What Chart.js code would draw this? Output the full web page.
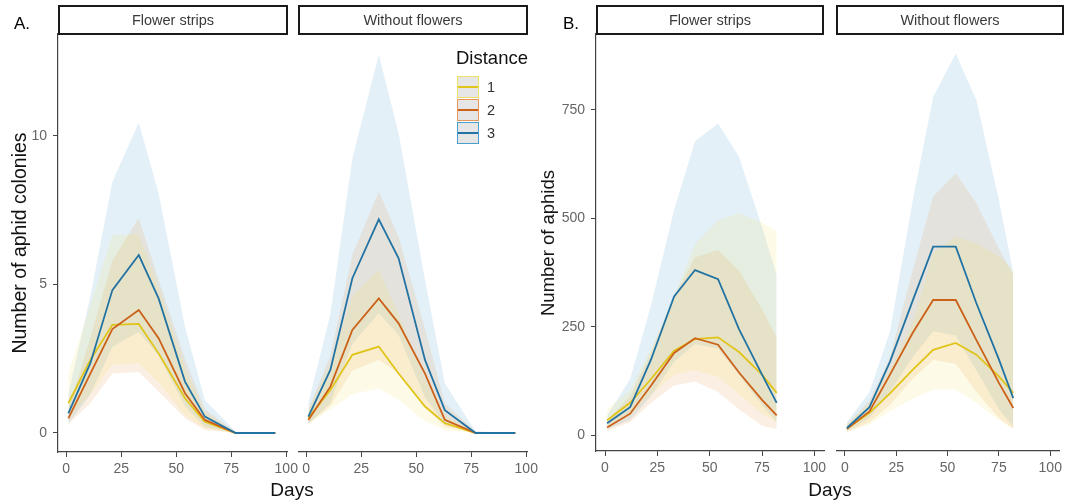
<!DOCTYPE html>
<html>
<head>
<meta charset="utf-8">
<script src="https://cdn.jsdelivr.net/npm/chart.js@4.4.0/dist/chart.umd.min.js"></script>
<style>
body { margin:0; width:1066px; height:502px; background:#fff; position:relative; overflow:hidden; font-family:"Liberation Sans", Arial, sans-serif; }
canvas { position:absolute; }
.strip { position:absolute; top:5px; height:30px; box-sizing:border-box; border:2px solid #1a1a1a; background:#fff; color:#3a3a3a; font-size:14.5px; text-align:center; line-height:26px; }
.ytitle { position:absolute; transform:translate(-50%,-50%) rotate(-90deg); white-space:nowrap; font-size:18.5px; color:#111; }
.xtitle { position:absolute; transform:translateX(-50%); font-size:19px; color:#111; top:479px; }
.tag { position:absolute; top:14px; font-size:17px; color:#000; }
.key { position:absolute; left:457px; width:22px; height:22px; box-sizing:border-box; background:#e6e6e6; border:1.5px solid; }
.key i { position:absolute; left:0; right:0; top:8.5px; height:2px; }
.klab { position:absolute; left:487px; font-size:14.5px; color:#333; line-height:16px; }
</style>
</head>
<body>
<canvas id="a1"></canvas>
<canvas id="a2"></canvas>
<canvas id="b1"></canvas>
<canvas id="b2"></canvas>

<div class="tag" style="left:14px">A.</div>
<div class="tag" style="left:563px">B.</div>
<div class="strip" style="left:58px;width:230px">Flower strips</div>
<div class="strip" style="left:298px;width:230px">Without flowers</div>
<div class="strip" style="left:596px;width:228px">Flower strips</div>
<div class="strip" style="left:836px;width:228px">Without flowers</div>
<div class="ytitle" style="left:19px;top:243px;font-size:19.5px">Number of aphid colonies</div>
<div class="ytitle" style="left:548px;top:243px">Number of aphids</div>
<div class="xtitle" style="left:292px">Days</div>
<div class="xtitle" style="left:830px">Days</div>

<div style="position:absolute;left:456px;top:49px;font-size:18.5px;line-height:18.5px;color:#111">Distance</div>
<div class="key" style="top:76px;border-color:#efe06a"><i style="background:#e0c41a"></i></div>
<div class="key" style="top:99px;border-color:#e8965c"><i style="background:#cc6119"></i></div>
<div class="key" style="top:122px;border-color:#4d9fd0"><i style="background:#2273a3"></i></div>
<div class="klab" style="top:79px">1</div>
<div class="klab" style="top:102px">2</div>
<div class="klab" style="top:125px">3</div>

<script>
// sampling days
const daysA = [1, 11, 21, 33, 42, 54, 63, 77, 95];
const daysB = [1, 12, 22, 33, 43, 54, 64, 75, 82];

// A: number of aphid colonies, flower strips
const colFS1 = [1.0, 2.46, 3.64, 3.67, 2.68, 1.17, 0.38, 0, 0];
const colFS1lo = [0.5, 1.3, 2.3, 2.35, 1.7, 0.6, 0.15, 0, 0];
const colFS1hi = [2.0, 4.3, 6.67, 6.67, 4.9, 2.2, 0.7, 0.02, 0];
const colFS2 = [0.49, 2.0, 3.5, 4.14, 3.19, 1.34, 0.44, 0, 0];
const colFS2lo = [0.3, 1.0, 2.0, 2.05, 1.4, 0.5, 0.1, 0, 0];
const colFS2hi = [0.8, 3.2, 5.8, 7.23, 5.15, 2.5, 0.8, 0.03, 0];
const colFS3 = [0.66, 2.35, 4.81, 5.99, 4.53, 1.73, 0.55, 0, 0];
const colFS3lo = [0.3, 1.3, 2.9, 3.4, 2.6, 0.9, 0.2, 0, 0];
const colFS3hi = [1.3, 4.6, 8.46, 10.45, 8.07, 3.58, 1.11, 0.05, 0];

// A: number of aphid colonies, without flowers
const colWF1 = [0.5, 1.45, 2.63, 2.91, 2.0, 0.89, 0.33, 0, 0];
const colWF1lo = [0.3, 0.8, 1.3, 1.5, 1.1, 0.4, 0.1, 0, 0];
const colWF1hi = [0.8, 2.3, 4.6, 5.49, 4.0, 1.8, 0.6, 0.02, 0];
const colWF2 = [0.44, 1.56, 3.47, 4.53, 3.69, 2.0, 0.44, 0, 0];
const colWF2lo = [0.3, 0.9, 2.1, 2.46, 2.0, 0.9, 0.2, 0, 0];
const colWF2hi = [0.8, 2.6, 6.0, 8.12, 6.6, 3.5, 1.0, 0.05, 0];
const colWF3 = [0.55, 2.12, 5.21, 7.19, 5.88, 2.46, 0.77, 0, 0];
const colWF3lo = [0.3, 1.0, 3.0, 4.03, 3.3, 1.2, 0.3, 0, 0];
const colWF3hi = [1.0, 4.0, 9.25, 12.73, 10.1, 5.15, 1.67, 0.05, 0];

// B: number of aphids, flower strips
const aphFS1 = [35, 75, 130, 195, 222, 226, 192, 140, 98];
const aphFS1lo = [20, 45, 95, 140, 150, 135, 95, 50, 30];
const aphFS1hi = [60, 105, 200, 320, 440, 495, 512, 490, 470];
const aphFS2 = [18, 50, 115, 190, 224, 209, 145, 82, 46];
const aphFS2lo = [10, 30, 75, 115, 124, 100, 60, 22, 14];
const aphFS2hi = [35, 90, 190, 320, 410, 427, 380, 290, 225];
const aphFS3 = [28, 65, 175, 320, 381, 360, 245, 140, 75];
const aphFS3lo = [15, 35, 90, 170, 210, 200, 140, 70, 30];
const aphFS3hi = [45, 130, 300, 520, 678, 719, 642, 480, 370];

// B: number of aphids, without flowers
const aphWF1 = [15, 52, 97, 151, 197, 213, 186, 136, 98];
const aphWF1lo = [8, 25, 55, 85, 105, 105, 75, 35, 15];
const aphWF1hi = [25, 75, 150, 260, 420, 458, 443, 412, 381];
const aphWF2 = [15, 55, 140, 236, 312, 312, 220, 121, 63];
const aphWF2lo = [8, 30, 70, 130, 174, 165, 100, 40, 15];
const aphWF2hi = [25, 80, 180, 380, 550, 604, 535, 430, 370];
const aphWF3 = [17, 65, 170, 310, 435, 435, 305, 175, 86];
const aphWF3lo = [10, 40, 100, 180, 240, 230, 150, 60, 20];
const aphWF3hi = [30, 100, 240, 540, 780, 880, 773, 543, 374];

const xTicks = [0, 25, 50, 75, 100];
const yTicksA = [0, 5, 10];
const yTicksB = [0, 250, 500, 750];

const lineCols = ['#e0c41a', '#cc6119', '#2273a3'];
const fillCols = ['rgba(235,215,40,0.11)', 'rgba(220,125,25,0.12)', 'rgba(0,114,178,0.11)'];
const font = "'Liberation Sans', Arial, sans-serif";

const pts = (days, v) => days.map((d, i) => ({ x: d, y: v[i] }));

function panel(id, box, days, groups, yr, yTicks, xr, showY) {
  // padTop leaves room for the half tick label chart.js reserves above the y axis
  const yW = showY ? 48 : 0, xH = 34, padR = box.padR, padTop = 20;
  const cv = document.getElementById(id);
  const w = yW + (box.R - box.L) + padR, h = (box.B - box.T) + xH + padTop;
  cv.width = w; cv.height = h;
  cv.style.left = (box.L - yW) + 'px'; cv.style.top = (box.T - padTop) + 'px';
  cv.style.width = w + 'px'; cv.style.height = h + 'px';

  const ds = [];
  groups.forEach((g, i) => {
    ds.push({ data: pts(days, g[2]), fill: '+1', backgroundColor: fillCols[i], borderWidth: 0, pointRadius: 0, order: 10 });
    ds.push({ data: pts(days, g[1]), fill: false, borderWidth: 0, pointRadius: 0, order: 10 });
  });
  groups.forEach((g, i) => {
    ds.push({ data: pts(days, g[0]), fill: false, borderColor: lineCols[i], borderWidth: 1.8, pointRadius: 0, order: 2 - i });
  });

  const tickStyle = { color: '#666', font: { size: 14, family: font } };
  new Chart(cv, {
    type: 'line',
    data: { datasets: ds },
    options: {
      responsive: false,
      animation: false,
      layout: { padding: { left: 0, top: padTop, right: padR, bottom: 0 } },
      plugins: { legend: { display: false }, tooltip: { enabled: false }, filler: { drawTime: 'beforeDatasetsDraw' } },
      elements: { line: { tension: 0 } },
      scales: {
        x: {
          type: 'linear', min: xr[0], max: xr[1],
          afterBuildTicks: s => { s.ticks = xTicks.map(v => ({ value: v })); },
          afterFit: s => { s.height = xH; },
          grid: { drawOnChartArea: false, color: '#444', tickLength: 5 },
          border: { color: '#444', width: 1.2 },
          ticks: Object.assign({ padding: 4, maxRotation: 0, autoSkip: false }, tickStyle)
        },
        y: {
          display: showY, min: yr[0], max: yr[1],
          afterBuildTicks: s => { s.ticks = yTicks.map(v => ({ value: v })); },
          afterFit: s => { s.width = yW; },
          grid: { drawOnChartArea: false, color: '#444', tickLength: 5 },
          border: { color: '#444', width: 1.2 },
          ticks: Object.assign({ padding: 6 }, tickStyle)
        }
      }
    }
  });
}

const yRangeA = [-0.64, 13.43], yRangeB = [-36, 925];
const xRangeA = [-3.7, 100.4], xRangeB = [-4.3, 104.6];

panel('a1', { L: 58, R: 288, T: 34, B: 452, padR: 14 }, daysA,
  [[colFS1, colFS1lo, colFS1hi], [colFS2, colFS2lo, colFS2hi], [colFS3, colFS3lo, colFS3hi]],
  yRangeA, yTicksA, xRangeA, true);
panel('a2', { L: 298, R: 528, T: 34, B: 452, padR: 14 }, daysA,
  [[colWF1, colWF1lo, colWF1hi], [colWF2, colWF2lo, colWF2hi], [colWF3, colWF3lo, colWF3hi]],
  yRangeA, yTicksA, xRangeA, false);
panel('b1', { L: 596, R: 824, T: 34, B: 451, padR: 14 }, daysB,
  [[aphFS1, aphFS1lo, aphFS1hi], [aphFS2, aphFS2lo, aphFS2hi], [aphFS3, aphFS3lo, aphFS3hi]],
  yRangeB, yTicksB, xRangeB, true);
panel('b2', { L: 836, R: 1064, T: 34, B: 451, padR: 2 }, daysB,
  [[aphWF1, aphWF1lo, aphWF1hi], [aphWF2, aphWF2lo, aphWF2hi], [aphWF3, aphWF3lo, aphWF3hi]],
  yRangeB, yTicksB, xRangeB, false);
</script>
</body>
</html>
